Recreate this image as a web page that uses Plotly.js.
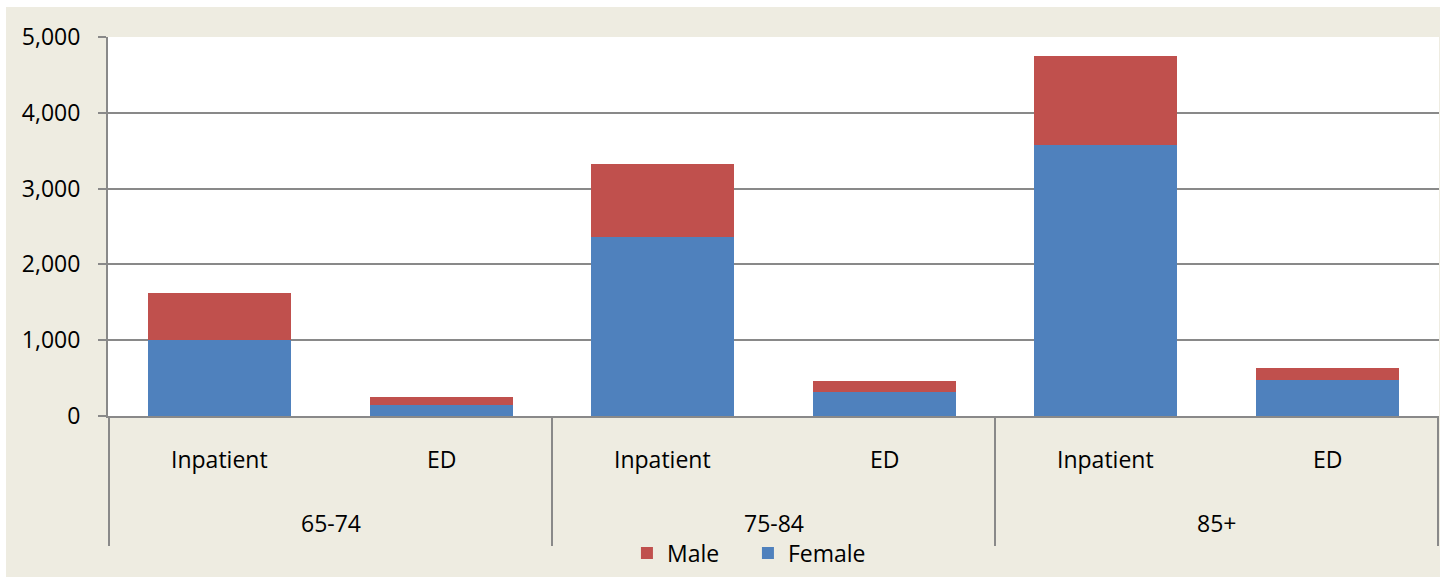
<!DOCTYPE html>
<html>
<head>
<meta charset="utf-8">
<script src="https://cdn.plot.ly/plotly-3.0.1.min.js"></script>
<style>
  html, body { margin: 0; padding: 0; background: #ffffff; }
  #chart { position: absolute; left: 6px; top: 7px; width: 1434px; height: 570px; }
</style>
</head>
<body>
<div id="chart"></div>
<script>
// ---- data ----
const ageGroups = ['65-74', '65-74', '75-84', '75-84', '85+', '85+'];
const settings  = ['Inpatient', 'ED', 'Inpatient', 'ED', 'Inpatient', 'ED'];
const female    = [1005, 145, 2360, 313, 3575, 470];
const male      = [618, 101, 965, 153, 1174, 159];
const yTickVals = [0, 1000, 2000, 3000, 4000, 5000];
const yTickText = ['0', '1,000', '2,000', '3,000', '4,000', '5,000'];

// ---- style ----
const FONT = 'Open Sans, Noto Sans, sans-serif';
const GRAY = '#898989';
const RED = '#C0504D';
const BLUE = '#4F81BD';
const BEIGE = '#EEECE1';

const traces = [
  { type: 'bar', name: 'Female', x: [ageGroups, settings], y: female,
    marker: { color: BLUE, line: { width: 0 } }, hoverinfo: 'y+name' },
  { type: 'bar', name: 'Male', x: [ageGroups, settings], y: male,
    marker: { color: RED, line: { width: 0 } }, hoverinfo: 'y+name' }
];

// category labels and group dividers as annotations/shapes tied to the x axis
const annotations = [];
const shapes = [];
settings.forEach((s, i) => {
  annotations.push({ xref: 'x', yref: 'paper', x: i, y: -0.1135, text: s,
    showarrow: false, xanchor: 'center', yanchor: 'middle',
    font: { family: FONT, size: 23, color: '#000' } });
});
const groups = [];
ageGroups.forEach((g, i) => {
  const last = groups[groups.length - 1];
  if (last && last.name === g) last.end = i; else groups.push({ name: g, start: i, end: i });
});
groups.forEach(g => {
  annotations.push({ xref: 'x', yref: 'paper', x: (g.start + g.end) / 2, y: -0.2823, text: g.name,
    showarrow: false, xanchor: 'center', yanchor: 'middle',
    font: { family: FONT, size: 23, color: '#000' } });
  shapes.push({ type: 'line', xref: 'x', yref: 'paper', x0: g.start - 0.5, x1: g.start - 0.5,
    y0: 0, y1: -0.343, line: { color: GRAY, width: 2 } });
});
const lastG = groups[groups.length - 1];
shapes.push({ type: 'line', xref: 'x', yref: 'paper', x0: lastG.end + 0.5, x1: lastG.end + 0.5,
  y0: 0, y1: -0.343, line: { color: GRAY, width: 2 } });

const layout = {
  width: 1434, height: 570,
  margin: { l: 102, r: 1, t: 30, b: 161 },
  paper_bgcolor: BEIGE,
  plot_bgcolor: '#ffffff',
  barmode: 'stack',
  bargap: 0.355,
  font: { family: FONT, size: 23, color: '#000' },
  showlegend: true,
  legend: { orientation: 'h', x: 0.4808, xanchor: 'center', y: -0.3615, yanchor: 'middle',
    traceorder: 'reversed', itemwidth: 30, entrywidth: 76, bgcolor: 'rgba(0,0,0,0)',
    font: { family: FONT, size: 23, color: '#000' } },
  xaxis: {
    type: 'multicategory', showticklabels: false, showdividers: false,
    showline: true, linecolor: GRAY, linewidth: 2, ticks: '', showgrid: false,
    zeroline: false, fixedrange: true
  },
  yaxis: {
    range: [0, 5000], tickvals: yTickVals, ticktext: yTickText,
    ticks: 'outside', ticklen: 8, tickcolor: GRAY, tickwidth: 2,
    ticklabelstandoff: 13,
    showline: true, linecolor: GRAY, linewidth: 2,
    showgrid: true, gridcolor: GRAY, gridwidth: 2, zeroline: false,
    tickfont: { family: FONT, size: 23, color: '#000' }, fixedrange: true
  },
  annotations: annotations,
  shapes: shapes
};

Plotly.newPlot('chart', traces, layout, { displayModeBar: false, staticPlot: true });
</script>
</body>
</html>
